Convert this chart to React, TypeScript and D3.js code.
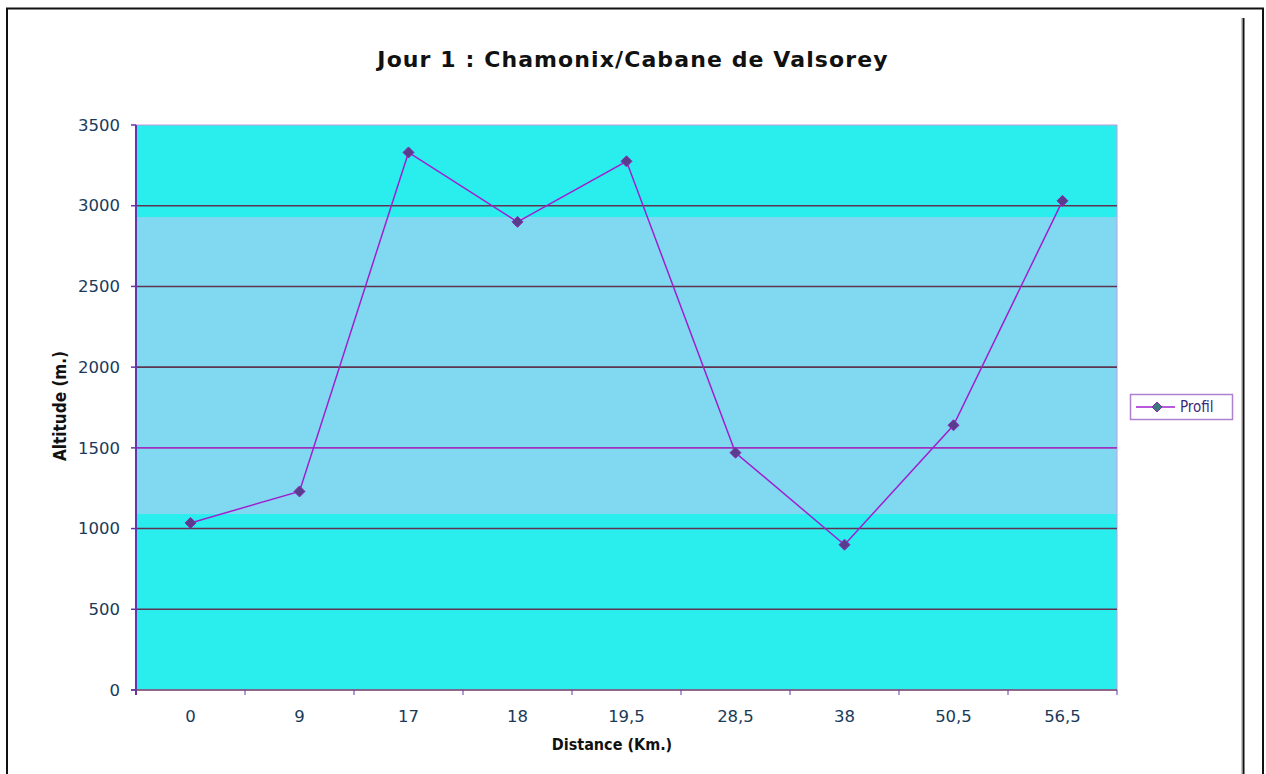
import React from "react";
import * as d3 from "d3";

const categories = ["0", "9", "17", "18", "19,5", "28,5", "38", "50,5", "56,5"];
const altitudes = [1035, 1230, 3330, 2900, 3275, 1470, 900, 1640, 3030];
const yTicks = [0, 500, 1000, 1500, 2000, 2500, 3000, 3500];
const bandRange = [1090, 2930];
const seriesName = "Profil";

export default function App() {
  const W = 1266, H = 774;
  const left = 136, right = 1117, top = 125, bottom = 690;
  const x = d3.scaleBand<string>().domain(categories).range([left, right]);
  const y = d3.scaleLinear().domain([0, 3500]).range([bottom, top]);
  const cx = (c: string) => (x(c) as number) + x.bandwidth() / 2;
  const line = d3.line<number>().x((_, i) => cx(categories[i])).y((d) => y(d));
  const diamond = (px: number, py: number, r: number) =>
    `M${px},${py - r}L${px + r},${py}L${px},${py + r}L${px - r},${py}Z`;
  const font = "'DejaVu Sans', Verdana, sans-serif";
  const condFont = "'DejaVu Sans Condensed', 'DejaVu Sans', sans-serif";
  const boundaries = categories.map((c) => x(c) as number).concat([right]);
  const lx = 1157, ly = 407;
  return (
    <svg width={W} height={H} style={{ position: "absolute", left: 0, top: 0, background: "#fff" }}>
      {/* frame */}
      <rect x={7} y={8.5} width={1256} height={H} fill="none" stroke="#111" strokeWidth={2} />
      <line x1={1243.5} x2={1243.5} y1={18} y2={H} stroke="#111" strokeWidth={2} />
      <line x1={1241.5} x2={1241.5} y1={18} y2={H} stroke="#7fe6ee" strokeWidth={1} />
      {/* title */}
      <text x={633} y={67} textAnchor="middle" fontFamily={font} fontWeight="bold" fontSize={22} letterSpacing={1.1} fill="#111">
        Jour 1 : Chamonix/Cabane de Valsorey
      </text>
      {/* plot background */}
      <rect x={left} y={top} width={right - left} height={bottom - top} fill="#2aeeee" />
      <rect x={left} y={y(bandRange[1])} width={right - left} height={y(bandRange[0]) - y(bandRange[1])} fill="#80d9f0" />
      <rect x={left} y={top} width={right - left} height={bottom - top} fill="none" stroke="#c49ae0" strokeWidth={1} />
      {/* gridlines */}
      {yTicks.filter((t) => t > 0 && t < 3500).map((t) => (
        <line key={t} x1={left} x2={right} y1={y(t)} y2={y(t)}
          stroke={t === 1500 ? "#a030c0" : "#5e3450"} strokeWidth={1.6} />
      ))}
      {/* axes */}
      <line x1={left} x2={left} y1={top} y2={bottom + 5} stroke="#6633aa" strokeWidth={2} />
      <line x1={left - 5} x2={right} y1={bottom} y2={bottom} stroke="#7a4a6a" strokeWidth={1.5} />
      {yTicks.map((t) => (
        <g key={t}>
          <line x1={left - 5} x2={left} y1={y(t)} y2={y(t)} stroke="#6633aa" strokeWidth={1.5} />
          <text x={120} y={y(t)} dy="0.35em" textAnchor="end" fontFamily={font} fontSize={16.5} fill="#1a3a5a">{t}</text>
        </g>
      ))}
      {boundaries.map((b, i) => (
        <line key={i} x1={b} x2={b} y1={bottom} y2={bottom + 5} stroke="#6633aa" strokeWidth={1} />
      ))}
      {categories.map((c) => (
        <text key={c} x={cx(c)} y={716} dy="0.35em" textAnchor="middle" fontFamily={font} fontSize={16.5} fill="#1a3a5a">{c}</text>
      ))}
      {/* axis titles */}
      <text x={612} y={744} dy="0.35em" textAnchor="middle" fontFamily={condFont} fontWeight="bold" fontSize={16} fill="#111">Distance (Km.)</text>
      <text transform={`translate(60,406) rotate(-90)`} dy="0.35em" textAnchor="middle" fontFamily={condFont} fontWeight="bold" fontSize={17} fill="#111">Altitude (m.)</text>
      {/* series */}
      <path d={line(altitudes) as string} fill="none" stroke="#a020d0" strokeWidth={1.5} />
      {altitudes.map((v, i) => (
        <path key={i} d={diamond(cx(categories[i]), y(v), 5.5)} fill="#5a3c8c" stroke="#8a2cb0" strokeWidth={1} />
      ))}
      {/* legend */}
      <rect x={1130.5} y={394.5} width={102} height={25} fill="#fff" stroke="#b080d0" strokeWidth={1.5} />
      <line x1={1136} x2={1175} y1={ly} y2={ly} stroke="#a020d0" strokeWidth={1.5} />
      <path d={diamond(lx, ly, 5)} fill="#3a7a7a" stroke="#8a2cb0" strokeWidth={1} />
      <text x={1180} y={ly} dy="0.35em" fontFamily={condFont} fontSize={15} fill="#3a2a7a">{seriesName}</text>
    </svg>
  );
}
